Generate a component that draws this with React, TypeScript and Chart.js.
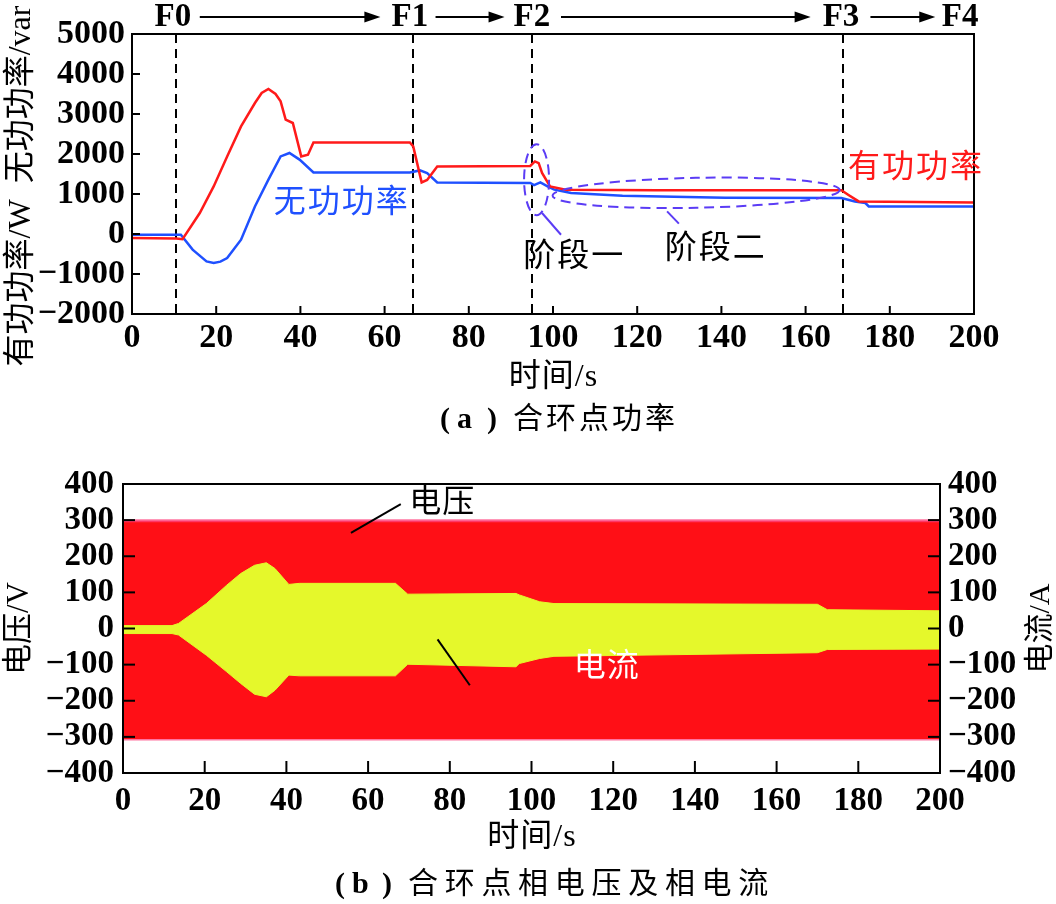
import React, { useEffect, useRef } from "react";
import { Chart, registerables } from "chart.js";

Chart.register(...registerables);

// ---------- data: (a) power at the loop-closing point ----------
const P_TIME = [0, 10.5, 12, 16.1, 19.4, 22.6, 25.9, 29.2, 30.8, 32.4, 34.1, 35.3, 36.5, 38.2, 40.2, 41.8, 43.1, 66, 66.8, 68.8, 70.1, 72.5, 94.6, 95.7, 96.6, 97.4, 99.3, 103, 124.6, 168.5, 170.1, 172.6, 200];
const ACTIVE_P = [-100, -110, -130, 525, 1190, 1940, 2690, 3275, 3525, 3625, 3500, 3315, 2860, 2775, 1940, 1980, 2290, 2290, 2190, 1290, 1350, 1690, 1700, 1815, 1770, 1525, 1190, 1108, 1095, 1095, 983, 815, 790];
const Q_TIME = [0, 11.6, 14.4, 17.7, 19.4, 21, 22.6, 25.9, 29.2, 32.4, 35.3, 37.4, 39.8, 43.1, 66, 68.4, 70.1, 72.5, 94.6, 95.5, 97, 98.7, 100.3, 104.3, 116.5, 140.9, 168.5, 171.7, 174.2, 175, 200];
const REACTIVE_Q = [-20, -20, -390, -685, -725, -690, -600, -143, 690, 1360, 1940, 2025, 1860, 1540, 1540, 1590, 1520, 1290, 1275, 1220, 1290, 1190, 1108, 1025, 958, 908, 900, 815, 775, 690, 690];
const EVENT_TIMES = [10.5, 66.7, 95, 169];
const EVENT_LABELS = ["F0", "F1", "F2", "F3", "F4"];
const EVENT_LABEL_T = [9.7, 66, 95, 168.4, 196.7];
const ARROWS_T = [[16.1, 59], [72.1, 88.5], [101.9, 161.2], [175.4, 190.8]];
const P_TICKS_MIN = -2000;
const P_TICKS_MAX = 5000;

// ---------- data: (b) phase voltage and phase current ----------
const V_TIME = [0, 200];
const V_UPPER = [298, 298];
const V_LOWER = [-306, -306];
const I_TIME = [0, 12, 13.6, 20.4, 25.4, 28.8, 32.2, 35.1, 37.2, 40.6, 43.2, 66.7, 69.7, 96.2, 97, 102, 105.5, 170, 172.4, 200];
const I_UPPER = [8, 8, 14, 69, 120, 152, 175, 182, 166, 122, 125, 125, 95, 97, 93, 74, 69, 67, 52, 49];
const I_LOWER = [-14, -14, -18, -74, -120, -152, -182, -189, -171, -129, -131, -131, -99, -106, -97, -83, -77, -67, -58, -57];

const SERIF = '"Liberation Serif", "Times New Roman", serif';
const MIXED = '"Liberation Serif", "Noto Sans CJK SC", serif';
const RED = "#ff1a1a";
const BLUE = "#1f50ff";
const PURPLE = "#5b3cf5";

const fmt = (v: any) => {
  const n = Number(v);
  return n < 0 ? "\u2212" + Math.abs(n) : String(n);
};

const pts = (xs: number[], ys: number[]) => xs.map((x, i) => ({ x, y: ys[i] }));

function text(ctx: any, s: string, x: number, y: number, font: string, color: string, spacing = 0, rot = 0, align = "center") {
  ctx.save();
  ctx.font = font;
  ctx.fillStyle = color;
  ctx.textAlign = align;
  ctx.textBaseline = "middle";
  (ctx as any).letterSpacing = spacing + "px";
  const shift = align === "center" ? spacing / 2 : 0;
  ctx.translate(x + (rot === 0 ? shift : 0), y + (rot !== 0 ? -shift : 0));
  ctx.rotate(rot);
  ctx.fillText(s, 0, 0);
  ctx.restore();
}

function line(ctx: any, x1: number, y1: number, x2: number, y2: number, w = 2, color = "#000") {
  ctx.save();
  ctx.strokeStyle = color;
  ctx.lineWidth = w;
  ctx.beginPath();
  ctx.moveTo(x1, y1);
  ctx.lineTo(x2, y2);
  ctx.stroke();
  ctx.restore();
}

function caption(ctx: any, tag: string, rest: string, tagX: number, restX: number, y: number, spacing: number) {
  text(ctx, "(", tagX, y, `bold 30px ${SERIF}`, "#000", 0, 0, "left");
  text(ctx, tag, tagX + 17, y, `bold 30px ${SERIF}`, "#000", 0, 0, "left");
  text(ctx, ")", tagX + 47, y, `bold 30px ${SERIF}`, "#000", 0, 0, "left");
  text(ctx, rest, restX, y, `30px ${MIXED}`, "#000", spacing, 0, "left");
}

function frameAndTicks(chart: any, yIds: string[], tickLen: number) {
  const { ctx, chartArea: a, scales } = chart;
  ctx.save();
  ctx.strokeStyle = "#000";
  ctx.lineWidth = 2;
  ctx.strokeRect(a.left, a.top, a.right - a.left, a.bottom - a.top);
  const x = scales.x;
  x.ticks.forEach((t: any) => {
    const px = x.getPixelForValue(t.value);
    if (px > a.left + 1 && px < a.right - 1) line(ctx, px, a.bottom, px, a.bottom - tickLen);
  });
  yIds.forEach((id) => {
    const s = scales[id];
    s.ticks.forEach((t: any) => {
      const py = s.getPixelForValue(t.value);
      if (py > a.top + 1 && py < a.bottom - 1) {
        if (s.position === "left") line(ctx, a.left, py, a.left + tickLen, py);
        else line(ctx, a.right, py, a.right - tickLen, py);
      }
    });
  });
  ctx.restore();
}

const topPlugin = {
  id: "topDecor",
  beforeDatasetsDraw(chart: any) {
    const { ctx, chartArea: a, scales } = chart;
    ctx.save();
    ctx.strokeStyle = "#000";
    ctx.lineWidth = 2;
    ctx.setLineDash([9, 6]);
    EVENT_TIMES.forEach((t) => {
      const px = Math.round(scales.x.getPixelForValue(t));
      ctx.beginPath();
      ctx.moveTo(px, a.top);
      ctx.lineTo(px, a.bottom);
      ctx.stroke();
    });
    ctx.restore();
  },
  afterDraw(chart: any) {
    const { ctx, chartArea: a, scales } = chart;
    const x = scales.x;
    const y = scales.y;
    frameAndTicks(chart, ["y"], 8);

    // event labels and arrows above the plot
    const fy = a.top - 17;
    EVENT_LABELS.forEach((s, i) => text(ctx, s, x.getPixelForValue(EVENT_LABEL_T[i]), fy, `bold 33px ${SERIF}`, "#000"));
    ARROWS_T.forEach(([t1, t2]) => {
      const x1 = x.getPixelForValue(t1);
      const x2 = x.getPixelForValue(t2);
      line(ctx, x1, fy, x2 - 10, fy, 2);
      ctx.save();
      ctx.fillStyle = "#000";
      ctx.beginPath();
      ctx.moveTo(x2, fy);
      ctx.lineTo(x2 - 16, fy - 5.5);
      ctx.lineTo(x2 - 16, fy + 5.5);
      ctx.closePath();
      ctx.fill();
      ctx.restore();
    });

    // dashed ellipses for the two stages
    const ell = (t: number, v: number, dt: number, dv: number, rot: number) => {
      const cx = x.getPixelForValue(t);
      const cy = y.getPixelForValue(v);
      const rx = x.getPixelForValue(t + dt) - cx;
      const ry = y.getPixelForValue(v - dv) - cy;
      ctx.save();
      ctx.strokeStyle = PURPLE;
      ctx.lineWidth = 2;
      ctx.setLineDash([10, 6]);
      ctx.beginPath();
      ctx.ellipse(cx, cy, rx, ry, rot, 0, Math.PI * 2);
      ctx.stroke();
      ctx.restore();
    };
    ell(96.1, 1357, 2.97, 887, 0);
    ell(134, 1030, 34.1, 375, -0.02);
    line(ctx, x.getPixelForValue(97.4), y.getPixelForValue(525), x.getPixelForValue(101.9), y.getPixelForValue(-18), 2, PURPLE);
    line(ctx, x.getPixelForValue(127.1), y.getPixelForValue(565), x.getPixelForValue(129.9), y.getPixelForValue(258), 2, PURPLE);

    // annotations
    text(ctx, "无功功率", x.getPixelForValue(49.6), y.getPixelForValue(757), `32px ${MIXED}`, BLUE, 2);
    text(ctx, "有功功率", x.getPixelForValue(186), y.getPixelForValue(1632), `32px ${MIXED}`, RED, 2);
    text(ctx, "阶段一", x.getPixelForValue(104.8), y.getPixelForValue(-592), `32px ${MIXED}`, "#000", 2);
    text(ctx, "阶段二", x.getPixelForValue(138.4), y.getPixelForValue(-393), `32px ${MIXED}`, "#000", 2);

    // axis titles and caption
    const cxm = (a.left + a.right) / 2;
    text(ctx, "有功功率/W  无功功率/var", 22, 186, `32px ${MIXED}`, "#000", 0, -Math.PI / 2);
    text(ctx, "时间/s", cxm, 378, `32px ${MIXED}`, "#000", 1);
    caption(ctx, "a", "合环点功率", cxm - 113, cxm - 40, 420, 3);
  },
};

const bottomPlugin = {
  id: "bottomDecor",
  afterDraw(chart: any) {
    const { ctx, chartArea: a, scales } = chart;
    const x = scales.x;
    const y = scales.y;
    frameAndTicks(chart, ["y", "y2"], 12);
    line(ctx, x.getPixelForValue(55.8), y.getPixelForValue(265), x.getPixelForValue(68), y.getPixelForValue(344), 2);
    text(ctx, "电压", x.getPixelForValue(78), y.getPixelForValue(347), `32px ${MIXED}`, "#000", 1);
    line(ctx, x.getPixelForValue(77), y.getPixelForValue(-30), x.getPixelForValue(84.9), y.getPixelForValue(-157), 2);
    text(ctx, "电流", x.getPixelForValue(118.3), y.getPixelForValue(-107), `32px ${MIXED}`, "#fff", 1);

    const cxm = (a.left + a.right) / 2;
    text(ctx, "电压/V", 20, (a.top + a.bottom) / 2, `31px ${MIXED}`, "#000", 0, -Math.PI / 2);
    text(ctx, "电流/A", 1041, (a.top + a.bottom) / 2, `30px ${MIXED}`, "#000", 0, -Math.PI / 2);
    text(ctx, "时间/s", cxm, 838 - 450, `32px ${MIXED}`, "#000", 1);
    caption(ctx, "b", "合环点相电压及相电流", cxm - 196.5, cxm - 123.5, 885 - 450, 6.7);
  },
};

const tickFont = { family: SERIF, size: 34, weight: "bold" as const };
const tickFontB = { family: SERIF, size: 33, weight: "bold" as const };

function PowerChart() {
  const ref = useRef<HTMLCanvasElement>(null);
  useEffect(() => {
    const chart = new Chart(ref.current as HTMLCanvasElement, {
      type: "line",
      data: {
        datasets: [
          { label: "有功功率", data: pts(P_TIME, ACTIVE_P), borderColor: RED, borderWidth: 2.5, pointRadius: 0, tension: 0 },
          { label: "无功功率", data: pts(Q_TIME, REACTIVE_Q), borderColor: BLUE, borderWidth: 2.5, pointRadius: 0, tension: 0 },
        ],
      },
      options: {
        animation: false,
        responsive: false,
        devicePixelRatio: 1,
        layout: { padding: { left: 0, top: 34, right: 82, bottom: 0 } },
        plugins: { legend: { display: false }, tooltip: { enabled: false } },
        scales: {
          x: {
            type: "linear",
            min: 0,
            max: 200,
            ticks: { stepSize: 20, font: tickFont, color: "#000", padding: 4, maxRotation: 0, autoSkip: false, callback: fmt },
            grid: { display: false, drawTicks: false },
            border: { display: false },
            afterFit: (s: any) => { s.height = 136; },
          },
          y: {
            min: P_TICKS_MIN,
            max: P_TICKS_MAX,
            ticks: { stepSize: 1000, font: tickFont, color: "#000", padding: 7, autoSkip: false, callback: fmt },
            grid: { display: false, drawTicks: false },
            border: { display: false },
            afterFit: (s: any) => { s.width = 132; },
          },
        },
      } as any,
      plugins: [topPlugin],
    });
    return () => chart.destroy();
  }, []);
  return <canvas ref={ref} width={1056} height={450} style={{ position: "absolute", left: 0, top: 0, width: 1056, height: 450 }} />;
}

function WaveChart() {
  const ref = useRef<HTMLCanvasElement>(null);
  useEffect(() => {
    const YELLOW = "#e5f82b";
    const VRED = "#ff0f16";
    const chart = new Chart(ref.current as HTMLCanvasElement, {
      type: "line",
      data: {
        datasets: [
          { label: "电流上包络", data: pts(I_TIME, I_UPPER), yAxisID: "y2", borderColor: YELLOW, backgroundColor: YELLOW, borderWidth: 1, fill: "+1", pointRadius: 0, tension: 0 },
          { label: "电流下包络", data: pts(I_TIME, I_LOWER), yAxisID: "y2", borderColor: YELLOW, borderWidth: 1, fill: false, pointRadius: 0, tension: 0 },
          { label: "电压上包络", data: pts(V_TIME, V_UPPER), yAxisID: "y", borderColor: "rgba(255,70,130,0.75)", backgroundColor: VRED, borderWidth: 3, fill: "+1", pointRadius: 0, tension: 0 },
          { label: "电压下包络", data: pts(V_TIME, V_LOWER), yAxisID: "y", borderColor: "rgba(255,70,130,0.75)", borderWidth: 3, fill: false, pointRadius: 0, tension: 0 },
        ],
      },
      options: {
        animation: false,
        responsive: false,
        devicePixelRatio: 1,
        layout: { padding: { left: 0, top: 34, right: 0, bottom: 0 } },
        plugins: { legend: { display: false }, tooltip: { enabled: false } },
        scales: {
          x: {
            type: "linear",
            min: 0,
            max: 200,
            ticks: { stepSize: 20, font: tickFontB, color: "#000", padding: 9, maxRotation: 0, autoSkip: false, callback: fmt },
            grid: { display: false, drawTicks: false },
            border: { display: false },
            afterFit: (s: any) => { s.height = 131; },
          },
          y: {
            position: "left",
            min: -400,
            max: 400,
            ticks: { stepSize: 100, font: tickFontB, color: "#000", padding: 9, autoSkip: false, callback: fmt },
            grid: { display: false, drawTicks: false },
            border: { display: false },
            afterFit: (s: any) => { s.width = 123; },
          },
          y2: {
            position: "right",
            min: -400,
            max: 400,
            ticks: { stepSize: 100, font: tickFontB, color: "#000", padding: 8, autoSkip: false, callback: fmt },
            grid: { display: false, drawTicks: false },
            border: { display: false },
            afterFit: (s: any) => { s.width = 116; },
          },
        },
      } as any,
      plugins: [bottomPlugin],
    });
    return () => chart.destroy();
  }, []);
  return <canvas ref={ref} width={1056} height={454} style={{ position: "absolute", left: 0, top: 450, width: 1056, height: 454 }} />;
}

export default function App() {
  return (
    <div style={{ position: "absolute", left: 0, top: 0, width: 1056, height: 904, background: "#fff" }}>
      <PowerChart />
      <WaveChart />
    </div>
  );
}
